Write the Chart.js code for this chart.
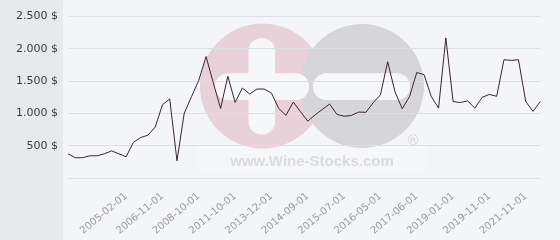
<!DOCTYPE html>
<html>
<head>
<meta charset="utf-8">
<script src="https://cdn.jsdelivr.net/npm/chart.js@4"></script>
<style>
html,body{margin:0;padding:0;background:#f4f5f8;}
#wrap{width:560px;height:240px;}
</style>
</head>
<body>
<div id="wrap"><canvas id="c" width="560" height="240"></canvas></div>
<script>
const dates = [
  "2002-06-01","2002-11-01","2003-03-01","2003-07-01","2003-11-01","2004-03-01","2004-07-01","2004-10-01",
  "2005-02-01","2005-06-01","2005-10-01","2006-02-01","2006-06-01",
  "2006-11-01","2007-03-01","2007-07-01","2007-11-01","2008-04-01",
  "2008-10-01","2009-05-01","2009-12-01","2010-06-01","2011-01-01",
  "2011-10-01","2012-03-01","2012-08-01","2013-01-01","2013-06-01",
  "2013-12-01","2014-02-01","2014-04-01","2014-05-01","2014-07-01",
  "2014-09-01","2014-11-01","2015-01-01","2015-03-01","2015-05-01",
  "2015-07-01","2015-09-01","2015-11-01","2016-01-01","2016-03-01",
  "2016-05-01","2016-08-01","2016-10-01","2017-01-01","2017-03-01",
  "2017-06-01","2017-09-01","2018-01-01","2018-05-01","2018-09-01",
  "2019-01-01","2019-03-01","2019-05-01","2019-07-01","2019-09-01",
  "2019-11-01","2020-04-01","2020-09-01","2021-01-01","2021-06-01",
  "2021-11-01","2022-03-01","2022-07-01"
];
const prices = [
  379,318,318,348,348,379,424,379,
  333,555,630,667,792,
  1136,1227,270,1009,1262,
  1515,1883,1475,1080,1578,
  1173,1396,1303,1380,1380,
  1318,1080,974,1179,1030,
  883,980,1065,1148,990,
  959,972,1024,1020,1168,
  1290,1803,1338,1076,1262,
  1635,1603,1262,1085,2171,
  1186,1171,1197,1085,1252,
  1297,1267,1833,1823,1833,
  1186,1035,1186
];
const yTicks = [0,500,1000,1500,2000,2500];
const shownDates = ["2005-02-01","2006-11-01","2008-10-01","2011-10-01","2013-12-01","2014-09-01","2015-07-01","2016-05-01","2017-06-01","2019-01-01","2019-11-01","2021-11-01"];

function fmt(v){
  return String(v).replace(/\B(?=(\d{3})+(?!\d))/g, ".") + " $";
}
function rr(ctx,x,y,w,h,r){
  ctx.beginPath();
  ctx.moveTo(x+r,y);
  ctx.lineTo(x+w-r,y);
  ctx.arc(x+w-r,y+r,r,-Math.PI/2,0);
  ctx.lineTo(x+w,y+h-r);
  ctx.arc(x+w-r,y+h-r,r,0,Math.PI/2);
  ctx.lineTo(x+r,y+h);
  ctx.arc(x+r,y+h-r,r,Math.PI/2,Math.PI);
  ctx.lineTo(x,y+r);
  ctx.arc(x+r,y+r,r,Math.PI,Math.PI*1.5);
  ctx.closePath();
  ctx.fill();
}
const bgPlugin = {
  id:'bg',
  beforeDraw(chart){
    const ctx = chart.ctx;
    ctx.save();
    ctx.fillStyle = '#f4f5f8';
    ctx.fillRect(0,0,chart.width,chart.height);
    ctx.fillStyle = '#e6eaed';
    ctx.fillRect(0,0,63,chart.height);
    // watermark
    ctx.fillStyle = 'rgba(255,255,255,0.22)';
    ctx.fillRect(197,145,230,28);
    ctx.fillStyle = '#e8d1d8';
    ctx.beginPath(); ctx.arc(262.5,86,62.5,0,Math.PI*2); ctx.fill();
    ctx.fillStyle = '#d6d6d9';
    ctx.beginPath(); ctx.arc(362,86,62,0,Math.PI*2); ctx.fill();
    ctx.fillStyle = '#f6f7f9';
    rr(ctx,248.5,38,26.5,96.5,13);
    rr(ctx,215,73.3,94,26.7,13);
    rr(ctx,313,73.3,97,26.7,13);
    ctx.fillStyle = '#dbdbde';
    ctx.font = 'bold 15px "Liberation Sans", Arial, sans-serif';
    ctx.textAlign = 'center';
    ctx.textBaseline = 'alphabetic';
    ctx.fillText('www.Wine-Stocks.com', 312, 166);
    ctx.font = '14px "DejaVu Sans", sans-serif';
    ctx.fillStyle = '#d5d5d8';
    ctx.fillText('\u00AE', 413, 145);
    ctx.restore();
  }
};

new Chart(document.getElementById('c'), {
  type:'line',
  data:{
    labels: dates,
    datasets:[{
      data: prices,
      borderColor:'#3b2431',
      borderWidth:1,
      pointRadius:0,
      pointHoverRadius:0,
      tension:0,
      fill:false
    }]
  },
  options:{
    responsive:false,
    animation:false,
    events:[],
    layout:{padding:{top:13,right:5,left:0,bottom:0}},
    plugins:{legend:{display:false},tooltip:{enabled:false}},
    scales:{
      y:{
        min:yTicks[0], max:yTicks[yTicks.length-1],
        afterBuildTicks(scale){ scale.ticks = yTicks.map(v=>({value:v})); },
        afterFit(scale){ scale.width = 68; },
        border:{display:false},
        grid:{color:'#dcdfe3', drawTicks:false, lineWidth:1},
        ticks:{
          padding:10,
          color:'#3a3a3a',
          font:{family:'"DejaVu Sans", sans-serif', size:11},
          callback(v){ return v===0 ? '' : fmt(v); }
        }
      },
      x:{
        afterFit(scale){ scale.height = 61.7; },
        border:{display:false},
        grid:{display:false, drawTicks:false},
        ticks:{
          autoSkip:false,
          minRotation:40,
          maxRotation:40,
          padding:12,
          color:'#9a9a9a',
          font:{family:'"DejaVu Sans", sans-serif', size:10},
          callback(v,i){ const d = this.getLabelForValue(v); return shownDates.includes(d) ? d : ''; }
        }
      }
    }
  },
  plugins:[bgPlugin]
});
</script>
</body>
</html>
